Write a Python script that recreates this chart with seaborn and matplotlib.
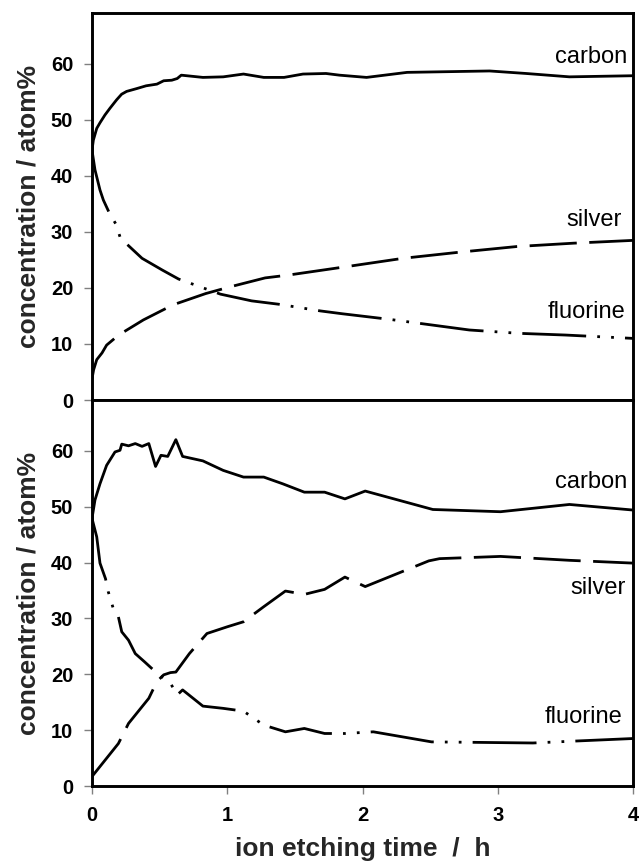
import numpy as np
import pandas as pd
import matplotlib
matplotlib.use("Agg")
import matplotlib.pyplot as plt
import seaborn as sns

# ---------------- data ----------------
# top panel
top_carbon_t = [0, 0.01, 0.035, 0.059, 0.096, 0.133, 0.182, 0.219, 0.256, 0.33, 0.40, 0.48, 0.53,
                0.59, 0.63, 0.66, 0.82, 0.97, 1.12, 1.27, 1.42, 1.56, 1.73, 1.83, 2.03, 2.33, 2.94,
                3.21, 3.53, 4.0]
top_carbon_c = [44.6, 46.4, 48.5, 49.5, 50.9, 52.1, 53.6, 54.6, 55.1, 55.6, 56.1, 56.4, 57.0,
                57.1, 57.4, 58.0, 57.6, 57.7, 58.2, 57.6, 57.6, 58.2, 58.3, 58.0, 57.6, 58.5, 58.75,
                58.3, 57.7, 57.9]

top_silver_t = [0, 0.012, 0.035, 0.074, 0.108, 0.197, 0.38, 0.60, 0.84, 1.02, 1.28, 1.45, 1.85,
                2.3, 2.72, 3.14, 3.56, 4.0]
top_silver_c = [3.8, 5.4, 7.2, 8.4, 9.8, 11.6, 14.3, 17.0, 19.0, 20.2, 21.8, 22.3, 23.7,
                25.3, 26.4, 27.4, 28.0, 28.5]

top_fluorine_t = [0, 0.022, 0.059, 0.084, 0.13, 0.177, 0.21, 0.37, 0.52, 0.64, 0.95, 1.18, 1.38,
                  1.69, 1.85, 2.2, 2.79, 3.16, 3.5, 4.0]
top_fluorine_c = [44.6, 41.1, 37.5, 35.7, 33.3, 31.4, 28.9, 25.3, 23.2, 21.6, 18.9, 17.7, 17.1,
                  15.9, 15.4, 14.4, 12.5, 11.9, 11.6, 11.0]

# bottom panel
bot_carbon_t = [0, 0.022, 0.059, 0.108, 0.17, 0.207, 0.22, 0.27, 0.32, 0.37, 0.42, 0.47, 0.51,
                0.56, 0.62, 0.67, 0.82, 0.97, 1.12, 1.27, 1.41, 1.57, 1.72, 1.87, 2.02, 2.52,
                3.02, 3.53, 4.0]
bot_carbon_c = [47.9, 51.2, 54.1, 57.4, 59.8, 60.1, 61.2, 60.9, 61.3, 60.8, 61.3, 57.2, 59.2,
                59.0, 62.0, 59.0, 58.2, 56.5, 55.3, 55.3, 54.1, 52.6, 52.6, 51.4, 52.8, 49.5,
                49.1, 50.4, 49.4]

bot_silver_t = [0, 0.195, 0.27, 0.42, 0.48, 0.53, 0.58, 0.62, 0.72, 0.85, 1.0, 1.12, 1.27, 1.43,
                1.57, 1.72, 1.87, 2.02, 2.49, 2.57, 3.02, 3.53, 4.0]
bot_silver_c = [1.7, 7.6, 11.2, 15.7, 18.7, 19.9, 20.3, 20.4, 23.7, 27.3, 28.5, 29.4, 32.1, 34.9,
                34.3, 35.2, 37.4, 35.7, 40.3, 40.7, 41.1, 40.4, 39.9]

bot_fluorine_t = [0, 0.035, 0.059, 0.10, 0.12, 0.157, 0.195, 0.22, 0.27, 0.32, 0.39, 0.48, 0.58,
                  0.63, 0.67, 0.82, 0.97, 1.12, 1.27, 1.43, 1.57, 1.72, 1.87, 2.08, 2.51, 3.26,
                  3.53, 4.0]
bot_fluorine_c = [47.9, 44.6, 39.9, 37.1, 34.8, 31.8, 30.3, 27.6, 26.1, 23.7, 22.2, 20.2, 18.4,
                  16.3, 17.2, 14.3, 13.9, 13.4, 10.9, 9.7, 10.3, 9.4, 9.4, 9.7, 7.9, 7.7,
                  8.0, 8.5]

elements = ["carbon", "silver", "fluorine"]
x_ticks = [0, 1, 2, 3, 4]
y_ticks = [0, 10, 20, 30, 40, 50, 60]
x_label = "ion etching time  /  h"
y_label = "concentration / atom%"

top_labels = {"carbon": (3.96, 61.3), "silver": (3.92, 32.1), "fluorine": (3.94, 15.7)}
bot_labels = {"carbon": (3.96, 54.4), "silver": (3.95, 35.4), "fluorine": (3.92, 12.4)}


def long_frame(series):
    rows = []
    for name, (t, c) in series.items():
        for ti, ci in zip(t, c):
            rows.append({"time": ti, "conc": ci, "element": name})
    return pd.DataFrame(rows)


df_top = long_frame({"carbon": (top_carbon_t, top_carbon_c),
                     "silver": (top_silver_t, top_silver_c),
                     "fluorine": (top_fluorine_t, top_fluorine_c)})
df_bot = long_frame({"carbon": (bot_carbon_t, bot_carbon_c),
                     "silver": (bot_silver_t, bot_silver_c),
                     "fluorine": (bot_fluorine_t, bot_fluorine_c)})

# ---------------- style ----------------
sns.set_style("white")
plt.rcParams["font.family"] = ["Liberation Sans", "DejaVu Sans"]
plt.rcParams["font.weight"] = "bold"
plt.rcParams["lines.scale_dashes"] = False

dash_map = {"carbon": "", "silver": (34, 9), "fluorine": (46, 8, 2, 8, 2, 8)}

W, H = 639, 868
fig = plt.figure(figsize=(W / 100, H / 100), dpi=100)
ax_top = fig.add_axes([92 / W, (H - 400) / H, 541 / W, 387 / H])
ax_bot = fig.add_axes([92 / W, (H - 786) / H, 541 / W, 386 / H])

for ax, df, labels in [(ax_top, df_top, top_labels), (ax_bot, df_bot, bot_labels)]:
    sns.lineplot(data=df, x="time", y="conc", style="element", style_order=elements,
                 dashes=dash_map, color="black", linewidth=2.0, estimator=None,
                 sort=False, legend=False, ax=ax)
    ax.set_xlim(0, 4)
    ax.set_ylim(0, 69.1)
    ax.set_yticks(y_ticks)
    ax.set_xticks(x_ticks)
    for s in ax.spines.values():
        s.set_visible(True)
        s.set_color("black")
        s.set_linewidth(2.1)
    ax.tick_params(axis="both", direction="out", length=6, width=1, color="#808080",
                   labelsize=14.5, labelcolor="black")
    ax.tick_params(axis="y", pad=7.5, left=True)
    ax.tick_params(axis="x", pad=8.5, bottom=True)
    ax.set_ylabel(y_label, fontsize=19, fontweight="bold")
    ax.yaxis.set_label_coords(-0.096, 0.5)
    for name, (tx, ty) in labels.items():
        ax.text(tx, ty, name, ha="right", va="center", fontsize=17, fontweight="normal",
                color="black")

ax_top.set_xlabel("")
ax_top.tick_params(axis="x", bottom=False, labelbottom=False)
ax_bot.set_xlabel(x_label, fontsize=19, fontweight="bold")
ax_bot.xaxis.set_label_coords(0.5, -0.133)

fig.savefig("out.png", dpi=100)
